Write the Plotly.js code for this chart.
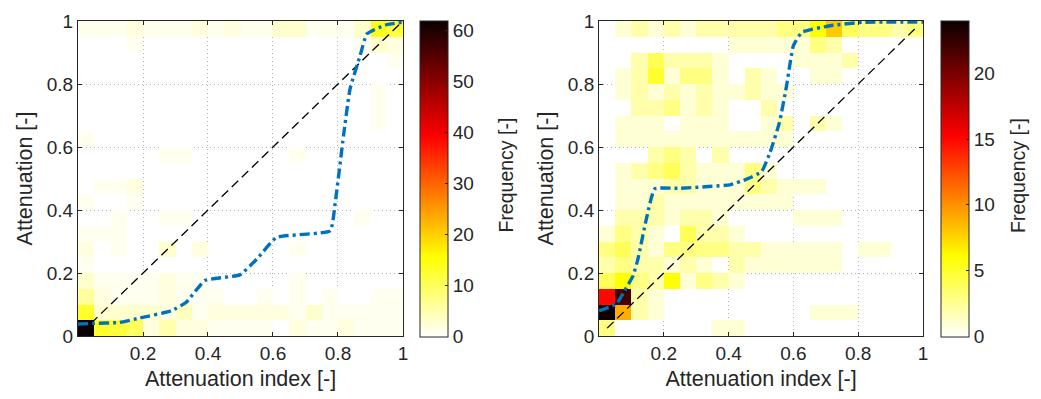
<!DOCTYPE html>
<html>
<head>
<meta charset="utf-8">
<script src="https://cdn.plot.ly/plotly-3.0.1.min.js"></script>
<style>html,body{margin:0;padding:0;background:#fff;}#chart{width:1041px;height:399px;}</style>
</head>
<body>
<div id="chart"></div>
<script>
// Bin centres (20 bins of width 0.05 on both axes)
const binCenters = [0.025,0.075,0.125,0.175,0.225,0.275,0.325,0.375,0.425,0.475,
                    0.525,0.575,0.625,0.675,0.725,0.775,0.825,0.875,0.925,0.975];

// Left panel: frequency counts, rows from bottom (y bin 0) to top (y bin 19)
const freqLeft = [
  [62,13,12,10,2,5,2,2,1,1,1,1,0,2,1,1,2,1,1,1],
  [13,3,3,3,3,2,4,1,2,2,2,2,2,1,3,1,1,1,1,1],
  [6,2,1,1,1,2,1,1,1,0,0,1,0,1,0,1,0,0,1,1],
  [3,1,1,1,1,2,1,1,0,0,0,0,0,1,0,0,0,0,0,0],
  [1,0,0,0,0,0,0,0,0,0,0,0,0,0,0,0,0,0,0,0],
  [2,0,1,0,0,3,0,2,0,0,0,0,0,1,0,0,0,0,0,0],
  [1,1,1,0,0,0,0,0,0,0,0,0,0,0,0,0,0,0,0,0],
  [0,0,1,0,0,1,1,0,0,0,0,0,0,0,0,0,0,1,0,0],
  [1,0,0,1,0,0,0,0,0,0,0,0,0,0,0,0,0,0,0,0],
  [0,1,1,2,0,0,0,0,0,0,0,0,0,0,0,0,0,0,0,0],
  [0,0,0,0,0,0,0,0,0,0,0,0,0,0,0,0,0,0,0,0],
  [0,0,0,0,0,1,1,0,0,0,0,0,0,1,0,0,0,0,0,0],
  [1,0,0,0,0,0,0,0,0,0,0,0,0,0,0,0,0,0,0,0],
  [0,0,0,0,0,0,0,0,0,0,0,0,0,0,0,0,0,0,1,0],
  [0,0,0,0,0,0,0,0,0,0,0,0,0,0,0,0,0,0,1,0],
  [0,0,0,0,0,0,0,0,0,0,0,0,0,0,0,0,0,0,1,0],
  [0,0,0,0,0,0,0,0,0,0,0,0,0,0,0,0,0,0,0,0],
  [0,0,0,0,0,0,0,0,0,0,0,0,0,0,0,0,0,0,0,1],
  [0,0,0,1,0,0,0,0,0,0,0,0,0,0,0,0,0,1,3,2],
  [1,1,1,2,1,1,1,2,1,2,1,1,3,3,1,1,1,3,14,12]
];

// Right panel: frequency counts, rows from bottom to top
const freqRight = [
  [3,0,0,0,0,0,0,1,1,0,0,0,0,0,0,0,0,0,0,0],
  [24,9,2,1,0,0,0,0,0,0,0,0,0,1,1,1,0,0,0,0],
  [15,22,2,1,0,0,0,0,0,0,0,0,0,0,0,0,0,0,0,0],
  [4,6,3,2,6,1,3,2,1,0,0,0,0,0,0,0,0,0,0,0],
  [2,3,2,2,1,2,1,0,2,1,1,1,1,1,1,0,0,0,0,0],
  [3,4,2,1,3,3,3,3,2,2,1,1,1,1,1,0,1,1,0,0],
  [1,3,2,1,0,4,2,2,1,0,0,0,0,0,0,0,0,0,0,0],
  [0,2,2,2,1,2,2,1,0,0,0,0,1,1,1,0,0,0,0,0],
  [0,1,1,2,1,1,1,1,1,1,1,1,0,0,0,0,0,0,0,0],
  [0,1,1,1,2,2,1,1,1,3,2,1,1,1,0,0,0,0,0,0],
  [0,1,2,3,4,2,1,1,1,3,1,0,0,0,0,0,0,0,0,0],
  [0,0,0,2,3,2,0,2,0,0,0,0,0,0,0,0,0,0,0,0],
  [0,1,1,1,1,1,1,1,1,1,1,1,0,0,0,0,0,0,0,0],
  [0,1,1,1,0,1,1,1,0,0,1,2,0,2,1,0,0,0,0,0],
  [0,0,2,2,3,1,2,1,0,0,2,0,0,0,0,0,0,0,0,0],
  [0,1,2,1,2,1,2,1,1,2,1,1,0,0,0,0,0,0,0,0],
  [0,1,2,5,1,3,3,1,0,2,1,0,0,1,1,0,0,0,0,0],
  [0,0,2,4,2,2,2,1,0,0,0,0,1,1,1,2,0,0,0,0],
  [0,0,0,0,0,0,0,0,1,1,1,1,1,3,2,0,0,0,0,0],
  [0,1,2,1,2,1,2,2,2,2,2,3,3,6,8,4,3,3,2,3]
];

// Blue curves
const curveLeftX = [0,0.045,0.128,0.19,0.287,0.333,0.39,0.498,0.55,0.611,0.776,0.791,0.817,0.837,0.868,0.889,0.945,1.0];
const curveLeftY = [0.038,0.040,0.043,0.057,0.080,0.107,0.176,0.194,0.244,0.313,0.334,0.419,0.636,0.784,0.89,0.959,0.987,0.996];
const curveRightX = [0,0.054,0.079,0.105,0.12,0.146,0.172,0.249,0.404,0.456,0.502,0.528,0.557,0.579,0.6,0.626,0.713,0.816,1.0];
const curveRightY = [0.080,0.102,0.144,0.191,0.244,0.371,0.467,0.469,0.480,0.498,0.522,0.583,0.678,0.795,0.922,0.964,0.985,0.996,0.997];

// Reference diagonals
const diagLeft = [0.04, 1.0];
const diagRight = [0.025, 0.975];

// Tick labels
const xTickVals = [0.2,0.4,0.6,0.8,1];
const xTickText = ['0.2','0.4','0.6','0.8','1'];
const yTickVals = [0,0.2,0.4,0.6,0.8,1];
const yTickText = ['0','0.2','0.4','0.6','0.8','1'];
const cbTicksLeft = [0,10,20,30,40,50,60];
const cbTicksRight = [0,5,10,15,20];

const xTitle = 'Attenuation index [-]';
const yTitle = 'Attenuation [-]';
const cbTitle = 'Frequency [-]';

// flipped MATLAB "hot"
const hotR = [[0,'rgb(255,255,255)'],[0.254,'rgb(255,255,0)'],[0.635,'rgb(255,0,0)'],[1,'rgb(11,0,0)']];

const FONT = 'Liberation Sans, Arial, Helvetica, sans-serif';
const TXT = '#262626';
const GRID = '#b5b5b5';
const GRIDDASH = '1px,3px';

function blank(z){ return z.map(r => r.map(v => v === 0 ? null : v)); }
function zmaxOf(z){ return Math.max.apply(null, z.map(r => Math.max.apply(null, r))); }

function heat(z, xa, ya, cbx, ticks){
  return {
    type:'heatmap', x:binCenters, y:binCenters, z:blank(z),
    xaxis:xa, yaxis:ya, colorscale:hotR, zmin:0, zmax:zmaxOf(z),
    hoverinfo:'skip',
    colorbar:{
      x:cbx, xanchor:'left', xpad:0, ypad:0, y:0.5, yanchor:'middle',
      len:1.003, lenmode:'fraction', thickness:28, thicknessmode:'pixels',
      outlinecolor:TXT, outlinewidth:1,
      tickvals:ticks, ticks:'inside', ticklen:3, tickcolor:TXT,
      tickfont:{family:FONT, size:19, color:TXT}
    }
  };
}

const traces = [
  heat(freqLeft,'x','y',0.4047,cbTicksLeft),
  heat(freqRight,'x2','y2',1.0213,cbTicksRight),
  {type:'scatter', mode:'lines', x:diagLeft, y:diagLeft, xaxis:'x', yaxis:'y',
   line:{color:'#000', width:1.3, dash:'9px,5px'}, hoverinfo:'skip', showlegend:false},
  {type:'scatter', mode:'lines', x:diagRight, y:diagRight, xaxis:'x2', yaxis:'y2',
   line:{color:'#000', width:1.3, dash:'9px,5px'}, hoverinfo:'skip', showlegend:false},
  {type:'scatter', mode:'lines', x:curveLeftX, y:curveLeftY, xaxis:'x', yaxis:'y',
   line:{color:'#0072BD', width:3.4, dash:'10px,4px,3px,4px', shape:'spline', smoothing:0.4},
   hoverinfo:'skip', showlegend:false},
  {type:'scatter', mode:'lines', x:curveRightX, y:curveRightY, xaxis:'x2', yaxis:'y2',
   line:{color:'#0072BD', width:3.4, dash:'10px,4px,3px,4px', shape:'spline', smoothing:0.4},
   hoverinfo:'skip', showlegend:false}
];

function xax(domain, anchor){
  return {domain:domain, anchor:anchor, range:[0,1], tickvals:xTickVals, ticktext:xTickText,
    ticks:'inside', ticklen:4, tickcolor:TXT, showline:true, linecolor:TXT, linewidth:1, mirror:'ticks',
    showgrid:true, gridcolor:GRID, griddash:GRIDDASH, gridwidth:1, zeroline:false,
    tickfont:{family:FONT, size:19, color:TXT},
    title:{text:xTitle, font:{family:FONT, size:21.5, color:TXT}, standoff:8}};
}
function yax(anchor){
  return {domain:[0,1], anchor:anchor, range:[0,1], tickvals:yTickVals, ticktext:yTickText,
    ticks:'inside', ticklen:4, tickcolor:TXT, showline:true, linecolor:TXT, linewidth:1, mirror:'ticks',
    showgrid:true, gridcolor:GRID, griddash:GRIDDASH, gridwidth:1, zeroline:false,
    tickfont:{family:FONT, size:19, color:TXT},
    title:{text:yTitle, font:{family:FONT, size:21.5, color:TXT}, standoff:8}};
}

const cbTitleAnn = (x) => ({text:cbTitle, xref:'paper', yref:'paper', x:x, y:0.511,
  xanchor:'center', yanchor:'middle', textangle:-90, showarrow:false,
  font:{family:FONT, size:19.5, color:TXT}});

const layout = {
  width:1041, height:399,
  margin:{l:78, r:118, t:21, b:63, pad:0},
  paper_bgcolor:'#fff', plot_bgcolor:'#fff',
  showlegend:false,
  font:{family:FONT, color:TXT},
  xaxis:xax([0,0.3846],'y'),
  yaxis:yax('x'),
  xaxis2:xax([0.6166,1],'y2'),
  yaxis2:yax('x2'),
  annotations:[cbTitleAnn(0.5071), cbTitleAnn(1.1124)]
};

Plotly.newPlot('chart', traces, layout, {staticPlot:true, displayModeBar:false});
</script>
</body>
</html>
